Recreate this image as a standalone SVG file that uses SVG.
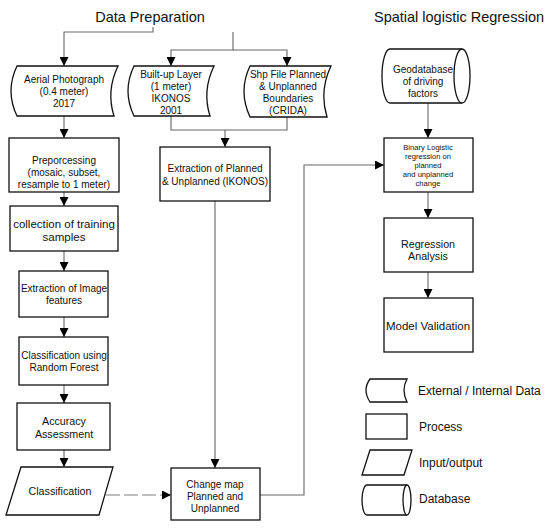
<svg xmlns="http://www.w3.org/2000/svg" width="550" height="528" viewBox="0 0 550 528">
<defs>
<marker id="ahb" viewBox="0 0 10 10" refX="10" refY="5" markerWidth="9" markerHeight="9" markerUnits="userSpaceOnUse" orient="auto"><path d="M0,0 L10,5 L0,10 Z" fill="#000"/></marker>
</defs>
<style>
.s{fill:#fff;stroke:#111;stroke-width:1.3}
.t{font-family:"Liberation Sans",Arial,sans-serif;fill:#111;text-anchor:middle;font-size:10px}
.tm{font-size:10.7px}
.tl{font-size:11.5px}
.ts{font-size:7.6px}
.h{font-family:"Liberation Sans",Arial,sans-serif;fill:#111;font-size:14.5px;text-anchor:middle}
.l{font-family:"Liberation Sans",Arial,sans-serif;fill:#111;font-size:12px}
.c{fill:none;stroke:#666;stroke-width:1.1}
.g{fill:none;stroke:#999;stroke-width:1.6}
.d{fill:none;stroke:#aaa;stroke-width:1.3;stroke-dasharray:14 4}
</style>
<text class="h" x="150" y="22">Data Preparation</text>
<text class="h" x="459" y="22">Spatial logistic Regression</text>
<g id="connectors">
<path class="c" d="M153,27 V32 H64 V66" marker-end="url(#ahb)"/>
<path class="c" d="M233,32 V50 H171 V66" marker-end="url(#ahb)"/>
<path class="c" d="M233,50 H287 V66" marker-end="url(#ahb)"/>
<path class="c" d="M171,116 V130 H287 V117"/>
<path class="c" d="M225,130 V147" marker-end="url(#ahb)"/>
<path class="c" d="M64,116 V138" marker-end="url(#ahb)"/>
<path class="c" d="M64,192 V206" marker-end="url(#ahb)"/>
<path class="c" d="M64,251 V271" marker-end="url(#ahb)"/>
<path class="c" d="M64,317 V337" marker-end="url(#ahb)"/>
<path class="c" d="M64,385 V403" marker-end="url(#ahb)"/>
<path class="c" d="M64,450 V467" marker-end="url(#ahb)"/>
<path class="d" d="M106,495 H171" marker-end="url(#ahb)"/>
<path class="c" d="M215,201 V468" marker-end="url(#ahb)"/>
<path class="c" d="M260,495 H304 V165 H384" marker-end="url(#ahb)"/>
<path class="g" d="M428,103 V138" marker-end="url(#ahb)"/>
<path class="g" d="M428,192 V218" marker-end="url(#ahb)"/>
<path class="g" d="M428,272 V298" marker-end="url(#ahb)"/>
</g>
<g id="aerial">
<path class="s" d="M17,66 H118 Q106,91 114,116 H17 Q5,91 17,66 Z"/>
<text class="t" x="64" y="83">Aerial Photograph</text>
<text class="t" x="64" y="95">(0.4 meter)</text>
<text class="t" x="64" y="107">2017</text>
</g>
<g id="builtup">
<path class="s" d="M134,66 H214 Q202,91 210,116 H134 Q122,91 134,66 Z"/>
<text class="t" x="171" y="78">Built-up Layer</text>
<text class="t" x="171" y="90">(1 meter)</text>
<text class="t" x="171" y="102">IKONOS</text>
<text class="t" x="171" y="114">2001</text>
</g>
<g id="shp">
<path class="s" d="M250,66 H331 Q319,91 327,117 H250 Q238,91 250,66 Z"/>
<text class="t" x="288" y="78">Shp File Planned</text>
<text class="t" x="288" y="90">&amp; Unplanned</text>
<text class="t" x="288" y="102">Boundaries</text>
<text class="t" x="288" y="114">(CRIDA)</text>
</g>
<g id="extraction-planned">
<rect class="s" x="160" y="147" width="110" height="54"/>
<text class="t" x="215" y="172">Extraction of Planned</text>
<text class="t" x="215" y="185">&amp; Unplanned  (IKONOS)</text>
</g>
<g id="preprocessing">
<rect class="s" x="9" y="138" width="110" height="54"/>
<text class="t" x="64" y="164">Preporcessing</text>
<text class="t" x="64" y="176">(mosaic, subset,</text>
<text class="t" x="64" y="188">resample to 1 meter)</text>
</g>
<g id="collection">
<rect class="s" x="10" y="206" width="108" height="45"/>
<text class="t tl" x="64" y="228">collection of training</text>
<text class="t tl" x="64" y="241">samples</text>
</g>
<g id="extraction-image">
<rect class="s" x="19" y="271" width="89" height="46"/>
<text class="t" x="64" y="292">Extraction of Image</text>
<text class="t" x="64" y="304">features</text>
</g>
<g id="classification-rf">
<rect class="s" x="19" y="337" width="89" height="48"/>
<text class="t" x="64" y="359">Classification using</text>
<text class="t" x="64" y="371">Random Forest</text>
</g>
<g id="accuracy">
<rect class="s" x="17" y="403" width="93" height="47"/>
<text class="t tm" x="64" y="425">Accuracy</text>
<text class="t tm" x="64" y="438">Assessment</text>
</g>
<g id="classification">
<path class="s" d="M21,467 H113 L99,515 H6 Z"/>
<text class="t tm" x="60" y="495">Classification</text>
</g>
<g id="changemap">
<rect class="s" x="171" y="468" width="89" height="52"/>
<text class="t" x="215" y="488">Change map</text>
<text class="t" x="215" y="500">Planned and</text>
<text class="t" x="215" y="512">Unplanned</text>
</g>
<g id="geodatabase">
<path class="s" d="M390,49 H462 A8,27 0 0 1 462,103 H390 A8,27 0 0 1 390,49 Z"/>
<path class="s" d="M462,49 A8,27 0 0 0 462,103" fill="none"/>
<text class="t" x="423" y="73">Geodatabase</text>
<text class="t" x="423" y="85">of driving</text>
<text class="t" x="423" y="97">factors</text>
</g>
<g id="binary">
<rect class="s" x="384" y="138" width="89" height="54"/>
<text class="t ts" x="428" y="150">Binary Logistic</text>
<text class="t ts" x="428" y="159">regression on</text>
<text class="t ts" x="428" y="168">planned</text>
<text class="t ts" x="428" y="177">and unplanned</text>
<text class="t ts" x="428" y="186">change</text>
</g>
<g id="regression">
<rect class="s" x="384" y="218" width="89" height="54"/>
<text class="t tm" x="428" y="248">Regression</text>
<text class="t tm" x="428" y="260">Analysis</text>
</g>
<g id="validation">
<rect class="s" x="384" y="298" width="89" height="54"/>
<text class="t tl" x="428" y="330">Model Validation</text>
</g>
<g id="legend">
<path class="s" d="M370,379 H407 Q401,390 407,402 H370 Q362,390 370,379 Z"/>
<text class="l" x="418" y="395">External / Internal Data</text>
<rect class="s" x="366" y="414" width="41" height="25"/>
<text class="l" x="419" y="431">Process</text>
<path class="s" d="M370,450 H412 L404,475 H362 Z"/>
<text class="l" x="419" y="467">Input/output</text>
<path class="s" d="M367,485 H407 A4,15 0 0 1 407,515 H367 A5,15 0 0 1 367,485 Z"/>
<path class="s" d="M407,485 A4,15 0 0 0 407,515" fill="none"/>
<text class="l" x="419" y="503">Database</text>
</g>
</svg>
